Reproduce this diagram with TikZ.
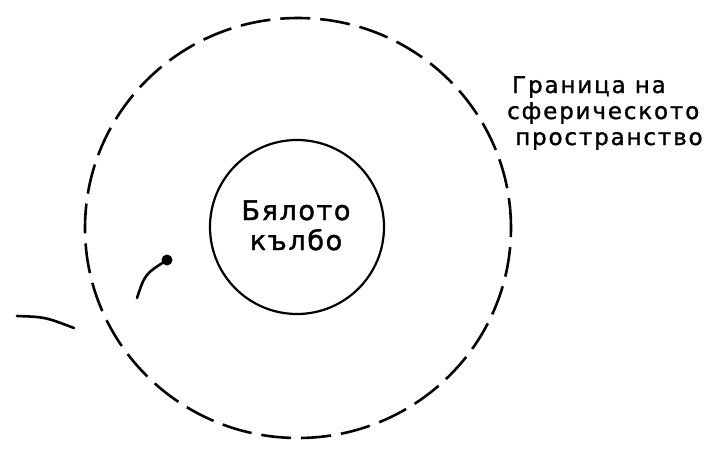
\documentclass[tikz,border=0pt]{standalone}
\usepackage{fontspec}
\setmainfont{DejaVu Sans}
\newfontfamily\lblfont[LetterSpace=8,FakeBold=1.2]{DejaVu Sans}
\newfontfamily\ballfont[LetterSpace=6,FakeBold=1.6]{DejaVu Sans}
\begin{document}
\begin{tikzpicture}[x=1pt,y=-1pt,
  bound/.style={line width=2.6pt,dash pattern=on 30pt off 10pt},
  ball/.style={circle,draw,line width=2.2pt,minimum size=174pt,inner sep=0pt},
  curve/.style={line width=2.6pt,line cap=round},
  lbl/.style={anchor=base west,font=\lblfont\fontsize{23}{26}\selectfont,inner sep=0pt},
  balltext/.style={anchor=base,font=\ballfont\fontsize{27}{30}\selectfont,inner sep=0pt}]
\useasboundingbox (0,0) rectangle (724,453);
% outer dashed boundary
\draw[bound] (298,228) ellipse [x radius=213pt, y radius=210pt];
% white ball
\node[ball] (ball) at (297,227) {};
\node[balltext] (t1) at (296,220) {Бялото};
\node[balltext] (t2) at (296,250) {кълбо};
% label
\node[lbl] (l1) at (512,93) {Граница на};
\node[lbl] (l2) at (507,119) {сферическото};
\node[lbl] (l3) at (515,145) {пространство};
% path with dot
\coordinate (d) at (167,260);
\coordinate (e) at (137,298);
\draw[curve] (d) .. controls (145,274) .. (e);
\fill (d) circle [radius=5.5pt];
% outside curve
\coordinate (s) at (17,316);
\coordinate (f) at (74,328);
\draw[curve] (s) .. controls (45,317) .. (f);
\end{tikzpicture}
\end{document}
